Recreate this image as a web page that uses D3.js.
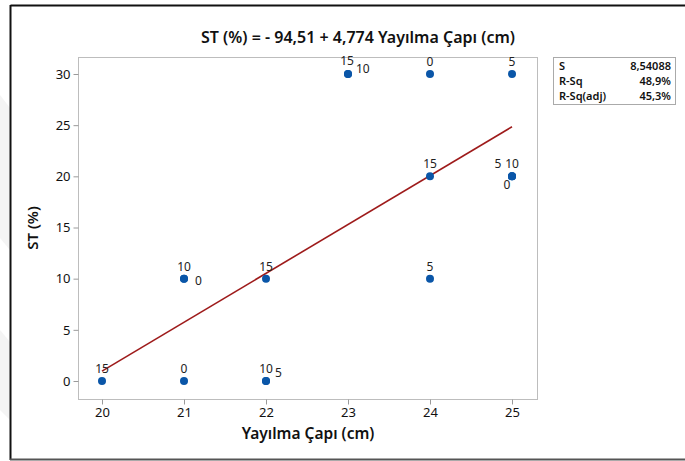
<!DOCTYPE html>
<html>
<head>
<meta charset="utf-8">
<script src="https://cdn.jsdelivr.net/npm/d3@7"></script>
<style>
  html, body { margin: 0; padding: 0; background: #fff; }
  svg { display: block; font-family: "Noto Sans", "Open Sans", sans-serif; }
</style>
</head>
<body>
<svg id="chart" width="685" height="461"></svg>
<script>
// Fitted line plot: ST (%) against spread diameter (Yayılma Çapı)
const spread = [23, 23, 24, 25, 24, 25, 25, 25, 21, 21, 22, 24, 20, 21, 22, 22];
const stPct  = [30, 30, 30, 30, 20, 20, 20, 20, 10, 10, 10, 10, 0, 0, 0, 0];
const pointLabels = ["15", "10", "0", "5", "15", "5", "10", "0", "10", "0", "15", "5", "15", "0", "10", "5"];
// where each point label sits relative to its marker
const labelPlacement = ["aboveLeft", "right", "above", "above", "above", "aboveLeft2", "above", "belowLeft",
                        "above", "rightLow", "above", "above", "above", "above", "above", "rightHigh"];

const intercept = -94.51;
const slope = 4.774;
const xTicks = [20, 21, 22, 23, 24, 25];
const yTicks = [0, 5, 10, 15, 20, 25, 30];
const statNames  = ["S", "R-Sq", "R-Sq(adj)"];
const statValues = ["8,54088", "48,9%", "45,3%"];

const svg = d3.select("#chart");

// faint diagonal background shapes at the left margin
const bg = svg.append("g").attr("fill", "#f4f4f4");
bg.append("path").attr("d", "M0,95 L10,108 L10,250 L0,238 Z");
bg.append("path").attr("d", "M0,330 L10,342 L10,420 L0,410 Z");

// outer frame
svg.append("line").attr("x1", 10.5).attr("y1", 5.5).attr("x2", 685).attr("y2", 5.5)
  .attr("stroke", "#111").attr("stroke-width", 2);
svg.append("line").attr("x1", 10.5).attr("y1", 5).attr("x2", 10.5).attr("y2", 460)
  .attr("stroke", "#111").attr("stroke-width", 2);
svg.append("line").attr("x1", 10).attr("y1", 459.5).attr("x2", 685).attr("y2", 459.5)
  .attr("stroke", "#555").attr("stroke-width", 2);

const plot = { left: 78, right: 537, top: 57, bottom: 399 };

const x = d3.scaleLinear().domain([20, 25]).range([102, 512]);
const y = d3.scaleLinear().domain([0, 30]).range([381, 74]);

// plot frame
svg.append("rect")
  .attr("x", plot.left + 0.5).attr("y", plot.top + 0.5)
  .attr("width", plot.right - plot.left).attr("height", plot.bottom - plot.top)
  .attr("fill", "none").attr("stroke", "#bdbdbd").attr("stroke-width", 1);

// axes
const xAxis = svg.append("g")
  .attr("transform", `translate(0,${plot.bottom + 0.5})`)
  .call(d3.axisBottom(x).tickValues(xTicks).tickSize(5).tickPadding(3).tickFormat(d3.format("d")));
const yAxis = svg.append("g")
  .attr("transform", `translate(${plot.left + 0.5},0)`)
  .call(d3.axisLeft(y).tickValues(yTicks).tickSize(5).tickPadding(3).tickFormat(d3.format("d")));
[xAxis, yAxis].forEach(a => {
  a.select(".domain").remove();
  a.selectAll(".tick line").attr("stroke", "#9a9a9a");
  a.selectAll(".tick text").attr("fill", "#111").style("font-size", "13px")
    .style("font-family", "'Noto Sans', sans-serif");
});

// regression line
const lineGen = d3.line().x(d => x(d)).y(d => y(intercept + slope * d));
svg.append("path")
  .datum([20, 25])
  .attr("d", lineGen)
  .attr("fill", "none")
  .attr("stroke", "#9e1b1b")
  .attr("stroke-width", 1.6);

// points
const pts = spread.map((s, i) => ({ x: s, y: stPct[i], label: pointLabels[i], pos: labelPlacement[i] }));
svg.append("g").selectAll("circle")
  .data(pts)
  .join("circle")
  .attr("cx", d => x(d.x))
  .attr("cy", d => y(d.y))
  .attr("r", 4)
  .attr("fill", "#0a56a8");

const offsets = {
  above:      [0, -8, "middle"],
  aboveLeft:  [-1, -9, "middle"],
  aboveLeft2: [-14, -8, "middle"],
  right:      [8, -1, "start"],
  rightLow:   [11, 6, "start"],
  rightHigh:  [9, -4, "start"],
  belowLeft:  [-5, 13, "middle"]
};
svg.append("g").selectAll("text")
  .data(pts)
  .join("text")
  .attr("x", d => x(d.x) + offsets[d.pos][0])
  .attr("y", d => y(d.y) + offsets[d.pos][1])
  .attr("text-anchor", d => offsets[d.pos][2])
  .style("font-size", "12px")
  .attr("fill", "#222")
  .text(d => d.label);

// titles
svg.append("text")
  .attr("x", 358).attr("y", 43)
  .attr("text-anchor", "middle")
  .style("font-size", "16px").style("font-weight", "600")
  .attr("fill", "#111")
  .text("ST (%) = - 94,51 + 4,774 Yayılma Çapı (cm)");

svg.append("text")
  .attr("x", 308).attr("y", 439)
  .attr("text-anchor", "middle")
  .style("font-size", "15.5px").style("font-weight", "600")
  .attr("fill", "#111")
  .text("Yayılma Çapı (cm)");

svg.append("text")
  .attr("transform", "translate(38,228) rotate(-90)")
  .attr("text-anchor", "middle")
  .style("font-size", "15px").style("font-weight", "600")
  .attr("fill", "#111")
  .text("ST (%)");

// statistics box
const box = svg.append("g");
box.append("rect")
  .attr("x", 553.5).attr("y", 57.5).attr("width", 122).attr("height", 47)
  .attr("fill", "#fff").attr("stroke", "#aaa");
statNames.forEach((n, i) => {
  box.append("text").attr("x", 559).attr("y", 70 + i * 15)
    .style("font-size", "11px").style("font-weight", "600").attr("fill", "#111").text(n);
  box.append("text").attr("x", 671).attr("y", 70 + i * 15).attr("text-anchor", "end")
    .style("font-size", "11px").style("font-weight", "600").attr("fill", "#111").text(statValues[i]);
});
</script>
</body>
</html>
